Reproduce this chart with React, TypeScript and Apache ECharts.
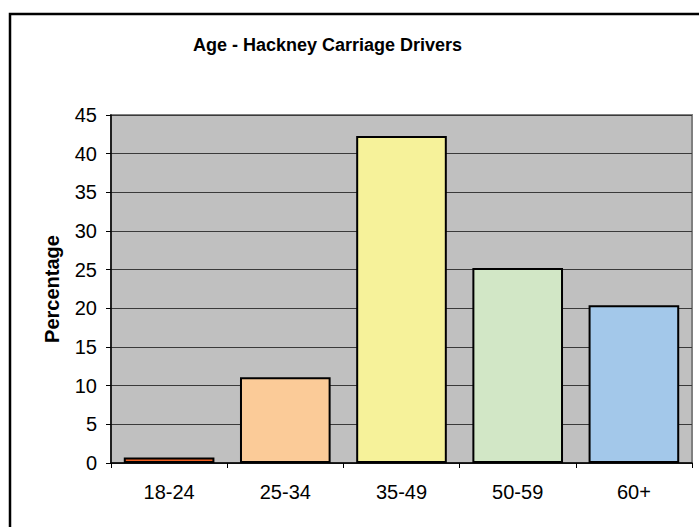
import React, { useEffect, useRef } from "react";
import * as echarts from "echarts";

const categories = ["18-24", "25-34", "35-49", "50-59", "60+"];
const percentages = [0.7, 11.1, 42.3, 25.2, 20.4];
const barColors = ["#EE5E20", "#FBCB98", "#F6F29A", "#D2E7C6", "#A3C8EA"];
const yTicks = { min: 0, max: 45, interval: 5 };

export default function App() {
  const ref = useRef<HTMLDivElement>(null);
  useEffect(() => {
    document.body.style.margin = "0";
    const chart = echarts.init(ref.current!, null, { renderer: "svg" });
    const font = "'Liberation Sans', Arial, sans-serif";
    chart.setOption({
      animation: false,
      backgroundColor: "#ffffff",
      textStyle: { fontFamily: font },
      graphic: [
        {
          type: "rect",
          shape: { x: 10, y: 14, width: 800, height: 700 },
          style: { fill: "none", stroke: "#000", lineWidth: 2.5 },
          silent: true,
          z: -1,
        },
      ],
      title: {
        text: "Age - Hackney Carriage Drivers",
        left: 193,
        top: 36,
        padding: 0,
        textStyle: { fontSize: 18, fontWeight: "bold", color: "#000", fontFamily: font },
      },
      grid: {
        left: 111,
        right: 7,
        top: 115,
        bottom: 64,
        show: true,
        backgroundColor: "#C0C0C0",
        borderColor: "#808080",
        borderWidth: 2,
      },
      xAxis: {
        type: "category",
        data: categories,
        axisLine: { show: true, lineStyle: { color: "#000", width: 1.5 } },
        axisTick: { show: true, length: 5, alignWithLabel: false, lineStyle: { color: "#000" } },
        axisLabel: { fontSize: 20, color: "#000", margin: 19, fontFamily: font },
      },
      yAxis: {
        type: "value",
        min: yTicks.min,
        max: yTicks.max,
        interval: yTicks.interval,
        name: "Percentage",
        nameLocation: "middle",
        nameGap: 49,
        nameTextStyle: { fontSize: 20, fontWeight: "bold", color: "#000", fontFamily: font },
        axisLine: { show: true, lineStyle: { color: "#000", width: 1.5 } },
        axisTick: { show: true, length: 5, inside: false, lineStyle: { color: "#000" } },
        axisLabel: { fontSize: 20, color: "#000", margin: 14, fontFamily: font },
        splitLine: { show: true, lineStyle: { color: "#3a3a3a", width: 1 } },
      },
      series: [
        {
          type: "bar",
          barCategoryGap: "22%",
          data: percentages.map((v, i) => ({
            value: v,
            itemStyle: { color: barColors[i], borderColor: "#000", borderWidth: 2 },
          })),
        },
      ],
    });
    return () => chart.dispose();
  }, []);
  return <div ref={ref} style={{ width: 699, height: 527 }} />;
}
